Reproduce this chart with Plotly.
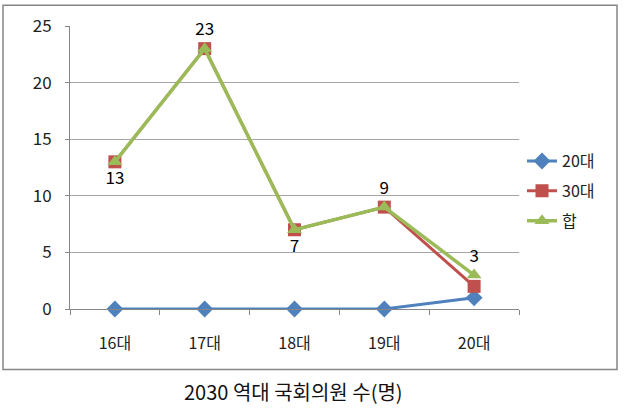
import plotly.graph_objects as go

categories = ["16대", "17대", "18대", "19대", "20대"]
s20 = [0, 0, 0, 0, 1]
s30 = [13, 23, 7, 9, 2]
total = [13, 23, 7, 9, 3]
total_label_pos = ["bottom center", "top center", "bottom center", "top center", "top center"]
y_ticks = [0, 5, 10, 15, 20, 25]
title_text = "2030 역대 국회의원 수(명)"

W, H = 640, 418
L, R, T, B = 70, 121, 24, 109
pw, ph = W - L - R, H - T - B

def px_x(x):
    return (x - L) / pw

def px_y(y):
    return (H - B - y) / ph

FONT = "Noto Sans CJK KR, Malgun Gothic, sans-serif"

fig = go.Figure()
fig.add_trace(go.Scatter(x=categories, y=s20, name="20대", mode="lines+markers",
                         line=dict(color="#4F81BD", width=3),
                         marker=dict(symbol="diamond", size=13, color="#4F81BD"),
                         cliponaxis=False, legendgroup="a"))
fig.add_trace(go.Scatter(x=categories, y=s30, name="30대", mode="lines+markers",
                         line=dict(color="#C0504D", width=3),
                         marker=dict(symbol="square", size=13, color="#C0504D"),
                         cliponaxis=False, legendgroup="b"))
fig.add_trace(go.Scatter(x=categories, y=total, name="합", mode="lines+markers+text",
                         line=dict(color="#9BBB59", width=3.5),
                         marker=dict(symbol="triangle-up", size=13, color="#9BBB59"),
                         text=[str(v) for v in total], textposition=total_label_pos,
                         textfont=dict(size=17, color="#000000", family=FONT),
                         cliponaxis=False, legendgroup="c"))

fig.update_layout(
    width=W, height=H,
    margin=dict(l=L, r=R, t=T, b=B),
    paper_bgcolor="white", plot_bgcolor="white",
    font=dict(family=FONT, size=16, color="#222222"),
    showlegend=True,
    legend=dict(x=px_x(522), y=px_y(143), xanchor="left", yanchor="top",
                font=dict(size=16, color="#222222"), tracegroupgap=6,
                bgcolor="rgba(0,0,0,0)"),
    xaxis=dict(type="category", range=[-0.5, 4.5], showline=True, linecolor="#868686",
               linewidth=1, ticks="outside", ticklen=5, tickcolor="#868686",
               tickson="boundaries", showgrid=False, zeroline=False,
               tickfont=dict(size=16, color="#222222"), ticklabelstandoff=20),
    yaxis=dict(range=[0, 25], tickvals=y_ticks, showline=True, linecolor="#868686",
               linewidth=1, ticks="outside", ticklen=4, tickcolor="#868686",
               showgrid=True, gridcolor="#A6A6A6", gridwidth=1, zeroline=False,
               tickfont=dict(size=17, color="#222222"), ticklabelstandoff=10),
    shapes=[dict(type="rect", xref="paper", yref="paper",
                 x0=px_x(3), x1=px_x(617), y0=px_y(370), y1=px_y(3),
                 line=dict(color="#868686", width=1.5), fillcolor="rgba(0,0,0,0)",
                 layer="below")],
    annotations=[dict(text=title_text, xref="paper", yref="paper",
                      x=px_x(293), y=px_y(392), xanchor="center", yanchor="middle",
                      showarrow=False, font=dict(size=20, color="#111111", family=FONT))],
)

fig.write_html("out.html")
